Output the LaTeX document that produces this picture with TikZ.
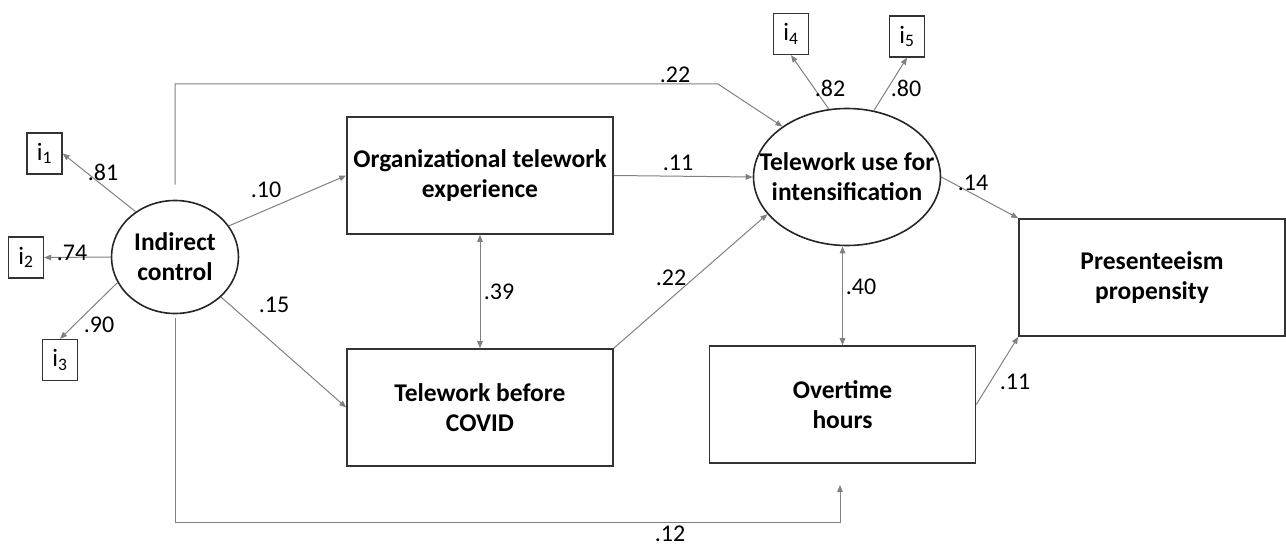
\documentclass[tikz,border=0pt]{standalone}
\usepackage{fontspec}
\setmainfont{Carlito}
\usetikzlibrary{shapes.geometric,arrows.meta}
\begin{document}
\begin{tikzpicture}[x=1pt,y=-1pt,>={Triangle[length=7pt,width=5.5pt]},
    obs/.style={draw=black!80,line width=1.6pt,minimum width=266pt,minimum height=117pt,inner sep=0pt,align=center,font=\fontsize{25.5}{30}\selectfont\bfseries},
    lat/.style={draw=black!85,line width=1.6pt,ellipse,inner sep=0pt},
    lab/.style={align=center,inner sep=0pt,font=\fontsize{25.5}{30}\selectfont\bfseries},
    ind/.style={draw=black!80,line width=1.3pt,minimum width=35pt,minimum height=41pt,inner sep=0pt,font=\fontsize{25}{28}\selectfont},
    eff/.style={->,draw=black!50,line width=1pt},
    wt/.style={inner sep=0pt,font=\fontsize{24}{28}\selectfont}]
  \useasboundingbox (0,0) rectangle (1286,548);
  \node[lat,minimum width=127pt,minimum height=113pt] (ic) at (175,257) {};
  \node[lab] (ictxt) at (ic) {Indirect\\control};
  \node[lat,minimum width=187pt,minimum height=137pt] (use) at (847,177) {};
  \node[lab] (usetxt) at (use) {Telework use for\\intensification};
  \node[obs] (org) at (480,175.5) {Organizational telework\\experience};
  \node[obs] (cov) at (480,407.5) {Telework before\\COVID};
  \node[obs] (ot) at (842.5,404.5) {Overtime\\hours};
  \node[obs] (pres) at (1152,277.5) {Presenteeism\\propensity};
  \node[ind] (i1) at (44.5,153.5) {i\textsubscript{1}};
  \node[ind] (i2) at (26,257.5) {i\textsubscript{2}};
  \node[ind] (i3) at (60,360) {i\textsubscript{3}};
  \node[ind] (i4) at (791,34) {i\textsubscript{4}};
  \node[ind] (i5) at (907,36.5) {i\textsubscript{5}};
  \draw[eff] (ic.131) -- (i1.east);
  \draw[eff] (ic.west) -- (i2.east);
  \draw[eff] (ic.204) -- (i3.north);
  \draw[eff] (use.105) -- (i4.south);
  \draw[eff] (use.68) -- (i5.south);
  \draw[eff] (ic.30) -- (org.west);
  \draw[eff] (ic.-41) -- (cov.west);
  \draw[eff] (org.east) -- (use.west);
  \draw[eff] (cov.north east) -- (use.205);
  \draw[eff,<->] (org.south) -- (cov.north);
  \draw[eff,<->] (ot.north |- use.south) -- (ot.north);
  \draw[eff] (use.east) -- (pres.north west);
  \draw[eff] (ot.east) -- (pres.south west);
  \coordinate (topbend) at (718,84);
  \draw[eff] ([yshift=15pt]ic.north) |- (topbend) -- (use.142);
  \coordinate (otfoot) at (840,485);
  \coordinate (botline) at (175,522);
  \draw[eff] ([yshift=-4pt]ic.south) |- (otfoot |- botline) -- (otfoot);
  \node[wt] (w81) at (103,172) {.81};
  \node[wt] (w74) at (72,253) {.74};
  \node[wt] (w90) at (99,325) {.90};
  \node[wt] (w10) at (266,190) {.10};
  \node[wt] (w15) at (274,305) {.15};
  \node[wt] (w22a) at (675,75) {.22};
  \node[wt] (w11a) at (678,163) {.11};
  \node[wt] (w22b) at (671,278) {.22};
  \node[wt] (w39) at (499,292) {.39};
  \node[wt] (w40) at (861,287) {.40};
  \node[wt] (w82) at (830,88) {.82};
  \node[wt] (w80) at (906,88) {.80};
  \node[wt] (w14) at (973,183) {.14};
  \node[wt] (w11b) at (1015,382) {.11};
  \node[wt] (w12) at (670,534) {.12};
\end{tikzpicture}
\end{document}
